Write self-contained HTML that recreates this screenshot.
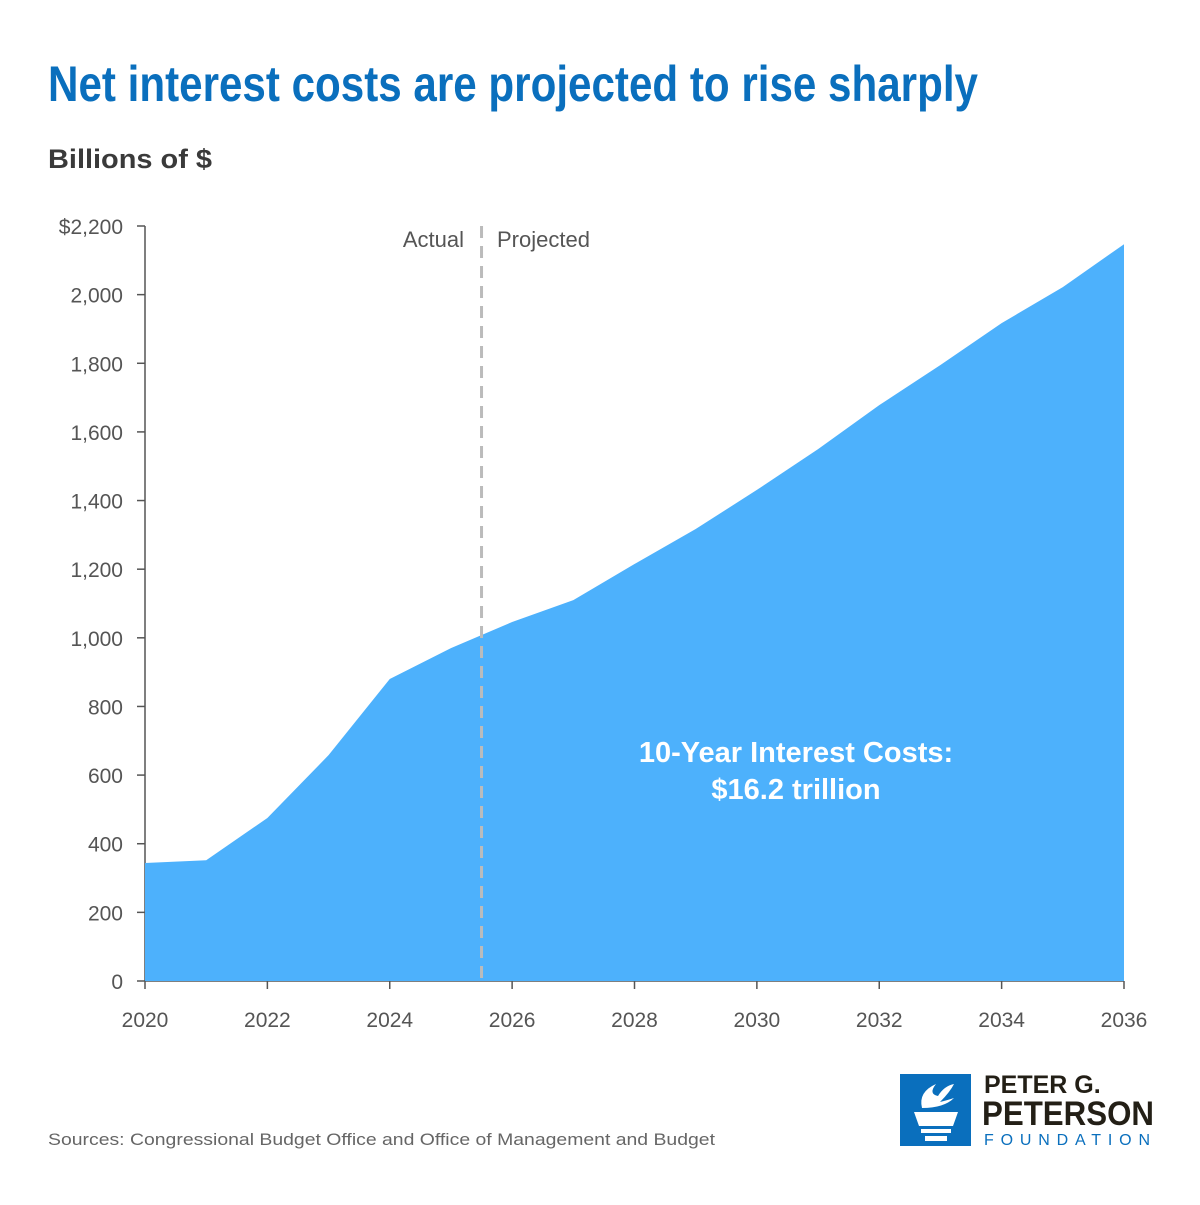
<!DOCTYPE html>
<html><head><meta charset="utf-8"><style>
body{margin:0;background:#fff;width:1200px;height:1200px;overflow:hidden;font-family:"Liberation Sans",sans-serif}
</style></head><body>
<svg id="chart" width="1200" height="1200" xmlns="http://www.w3.org/2000/svg">
<text x="48" y="101" font-size="50" font-weight="bold" fill="#0a6fbd" textLength="930" lengthAdjust="spacingAndGlyphs">Net interest costs are projected to rise sharply</text>
<text x="48" y="168" font-size="27" font-weight="bold" fill="#3a3a3a" textLength="164" lengthAdjust="spacingAndGlyphs">Billions of $</text>
<g id="yaxis"></g>
<g id="xaxis"></g>
<path id="area" fill="#4db1fc"/>
<line id="divider" stroke="#bbbbbb" stroke-width="3" stroke-dasharray="12,8"/>
<text x="464" y="247" font-size="22" fill="#555" text-anchor="end">Actual</text>
<text x="497" y="247" font-size="22" fill="#555">Projected</text>
<text x="796" y="762" font-size="29" font-weight="bold" fill="#fff" text-anchor="middle">10-Year Interest Costs:</text>
<text x="796" y="799" font-size="29" font-weight="bold" fill="#fff" text-anchor="middle">$16.2 trillion</text>
<text x="48" y="1145" font-size="17" fill="#666" textLength="667" lengthAdjust="spacingAndGlyphs">Sources: Congressional Budget Office and Office of Management and Budget</text>
<g>
<rect x="900" y="1074" width="71" height="72" fill="#0a6fbd"/>
<path d="M914 1112 h44 l-5 14 h-34 z M921 1129 h30 v4 h-30 z M925 1136 h22 v5 h-22 z" fill="#fff"/>
<path d="M922 1108 q-4 -16 14 -24 q-8 10 2 12 q6 -10 16 -12 q-4 8 -14 18 q8 -2 14 -4 q-10 10 -32 10 z" fill="#fff"/>
<text x="984" y="1093" font-size="25" font-weight="bold" fill="#231f16">PETER G.</text>
<text x="982" y="1125" font-size="34" font-weight="bold" fill="#231f16" textLength="172" lengthAdjust="spacingAndGlyphs">PETERSON</text>
<text x="984" y="1145" font-size="16" fill="#0a6fbd" textLength="166" lengthAdjust="spacing">FOUNDATION</text>
</g>
</svg>
<script>
const years=[2020,2021,2022,2023,2024,2025,2026,2027,2028,2029,2030,2031,2032,2033,2034,2035,2036];
const values=[344,352,475,658,880,970,1046,1110,1215,1317,1431,1550,1678,1795,1917,2022,2147];
const yTicks=[0,200,400,600,800,1000,1200,1400,1600,1800,2000,2200];
const yTickLabels=["0","200","400","600","800","1,000","1,200","1,400","1,600","1,800","2,000","$2,200"];
const xTicks=[2020,2022,2024,2026,2028,2030,2032,2034,2036];
const dividerYear=2025.5;
const X0=145,X1=1124,Y0=981,Y1=226;
const xs=v=>X0+(v-2020)/(2036-2020)*(X1-X0);
const ys=v=>Y0-v/2200*(Y0-Y1);
const NS="http://www.w3.org/2000/svg";
let d=`M${xs(years[0])},${ys(0)}`;
years.forEach((y,i)=>{d+=` L${xs(y)},${ys(values[i])}`});
d+=` L${xs(years[years.length-1])},${ys(0)} Z`;
document.getElementById('area').setAttribute('d',d);
const dv=document.getElementById('divider');
dv.setAttribute('x1',xs(dividerYear));dv.setAttribute('x2',xs(dividerYear));
dv.setAttribute('y1',226);dv.setAttribute('y2',ys(0));
const ya=document.getElementById('yaxis');
const ax=document.createElementNS(NS,'line');
ax.setAttribute('x1',X0);ax.setAttribute('x2',X0);ax.setAttribute('y1',Y1);ax.setAttribute('y2',Y0);ax.setAttribute('stroke','#555');ax.setAttribute('stroke-width','1.5');


ya.appendChild(ax);
yTicks.forEach((t,i)=>{
 const l=document.createElementNS(NS,'line');
 l.setAttribute('x1',X0-8);l.setAttribute('x2',X0);l.setAttribute('y1',ys(t));l.setAttribute('y2',ys(t));l.setAttribute('stroke','#555');l.setAttribute('stroke-width','1.5');
 
 
 ya.appendChild(l);
 const tx=document.createElementNS(NS,'text');
 tx.setAttribute('x',X0-22);tx.setAttribute('y',ys(t)+8);tx.setAttribute('text-anchor','end');tx.setAttribute('font-size','21');tx.setAttribute('fill','#555');
 tx.textContent=yTickLabels[i];
 
 
 ya.appendChild(tx);
});
const xa=document.getElementById('xaxis');
const bx=document.createElementNS(NS,'line');
bx.setAttribute('x1',X0);bx.setAttribute('x2',X1);bx.setAttribute('y1',Y0);bx.setAttribute('y2',Y0);bx.setAttribute('stroke','#555');bx.setAttribute('stroke-width','1.5');


xa.appendChild(bx);
xTicks.forEach(t=>{
 const l=document.createElementNS(NS,'line');
 l.setAttribute('x1',xs(t));l.setAttribute('x2',xs(t));l.setAttribute('y1',Y0);l.setAttribute('y2',Y0+8);l.setAttribute('stroke','#555');l.setAttribute('stroke-width','1.5');
 
 
 xa.appendChild(l);
 const tx=document.createElementNS(NS,'text');
 tx.setAttribute('x',xs(t));tx.setAttribute('y',Y0+46);tx.setAttribute('text-anchor','middle');tx.setAttribute('font-size','21');tx.setAttribute('fill','#555');
 tx.textContent=t;
 
 
 xa.appendChild(tx);
});
</script>
</body></html>
